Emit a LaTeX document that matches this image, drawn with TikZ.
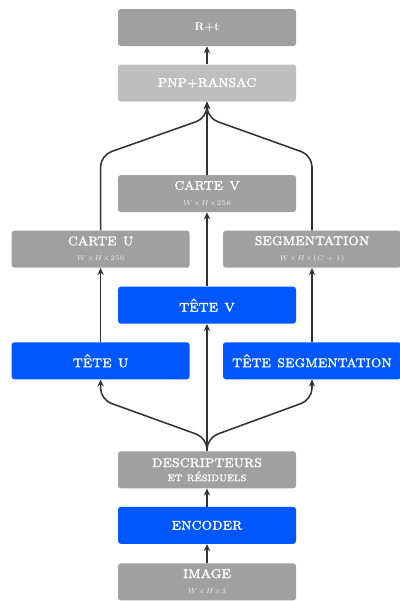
\documentclass[tikz,border=0pt]{standalone}
\usepackage{fontspec}
\setmainfont{lmroman10-regular.otf}[
    BoldFont=lmroman10-bold.otf,
    ItalicFont=lmroman10-italic.otf,
    SmallCapsFont=lmromancaps10-regular.otf,
    SmallCapsFeatures={FakeBold=1.3}]
\usepackage{tikz}
\usetikzlibrary{positioning, arrows.meta}
\definecolor{boxGray}{RGB}{160,160,160}
\definecolor{boxLight}{RGB}{190,190,190}
\definecolor{boxBlue}{RGB}{0,87,255}
\definecolor{lineDark}{RGB}{50,50,50}
\newcommand{\dims}[1]{\\[-3pt]{\tiny\color{white!80!boxGray}$#1$}}

\begin{document}
\begin{tikzpicture}[
        font=\large\scshape,
        data/.style={
            rectangle, rounded corners=2pt, fill=boxGray, text=white,
            minimum width=4.45cm, minimum height=0.925cm, align=center, inner sep=2pt
        },
        solver/.style={data, fill=boxLight},
        net/.style={data, fill=boxBlue},
        line/.style={draw=lineDark, line width=1.1pt},
        arrow/.style={line, -{Stealth[length=5pt, width=4.5pt]}}
    ]
    \useasboundingbox (0,0) rectangle (9.975,-15.025);

    % OUTPUT
    \node[data, font=\footnotesize\bfseries] (rt) at (5.175,-0.6875) {R+t};
    \node[solver, below=0.45cm of rt] (pnp) {pnp{\small+}ransac};

    % MAPS
    \node[data, below=1.825cm of pnp] (carteV) {carte v\dims{W{\times}H{\times}256}};
    \node[data, below=0.45cm of carteV, xshift=-2.66cm] (carteU) {carte u\dims{W{\times}H{\times}256}};
    \node[data, below=0.45cm of carteV, xshift=2.625cm] (seg) {segmentation\dims{W{\times}H{\times}(C+1)}};

    % HEADS
    \node[net, below=1.85cm of carteV] (teteV) {tête v};
    \node[net, below=0.45cm of teteV, xshift=-2.66cm] (teteU) {tête u};
    \node[net, below=0.45cm of teteV, xshift=2.625cm] (teteSeg) {tête segmentation};

    % BACKBONE
    \node[data, below=3.175cm of teteV] (desc) {descripteurs\\[-4pt]{\small et résiduels}};
    \node[net, below=0.45cm of desc] (enc) {encoder};
    \node[data, below=0.475cm of enc] (img) {image\dims{W{\times}H{\times}3}};

    % CONNECTIONS
    \draw[arrow] (img) -- (enc);
    \draw[arrow] (enc) -- (desc);
    \draw[arrow] (desc) -- (teteV);
    \draw[arrow, rounded corners=8pt] (desc.north) -- ++(0,0.325) -- ([yshift=-0.5cm]teteU.south) -- (teteU.south);
    \draw[arrow, rounded corners=8pt] (desc.north) -- ++(0,0.325) -- ([yshift=-0.5cm]teteSeg.south) -- (teteSeg.south);

    \draw[arrow] (teteU) -- (carteU);
    \draw[arrow] (teteV) -- (carteV);
    \draw[arrow] (teteSeg) -- (seg);

    \draw[arrow, rounded corners=8pt] (carteU.north) -- ([yshift=1.875cm]carteU.north) -- ([yshift=-0.4cm]pnp.south) -- (pnp.south);
    \draw[arrow, rounded corners=8pt] (seg.north) -- ([yshift=1.875cm]seg.north) -- ([yshift=-0.4cm]pnp.south) -- (pnp.south);
    \draw[arrow] (carteV) -- (pnp);
    \draw[arrow] (pnp) -- (rt);

\end{tikzpicture}
\end{document}
